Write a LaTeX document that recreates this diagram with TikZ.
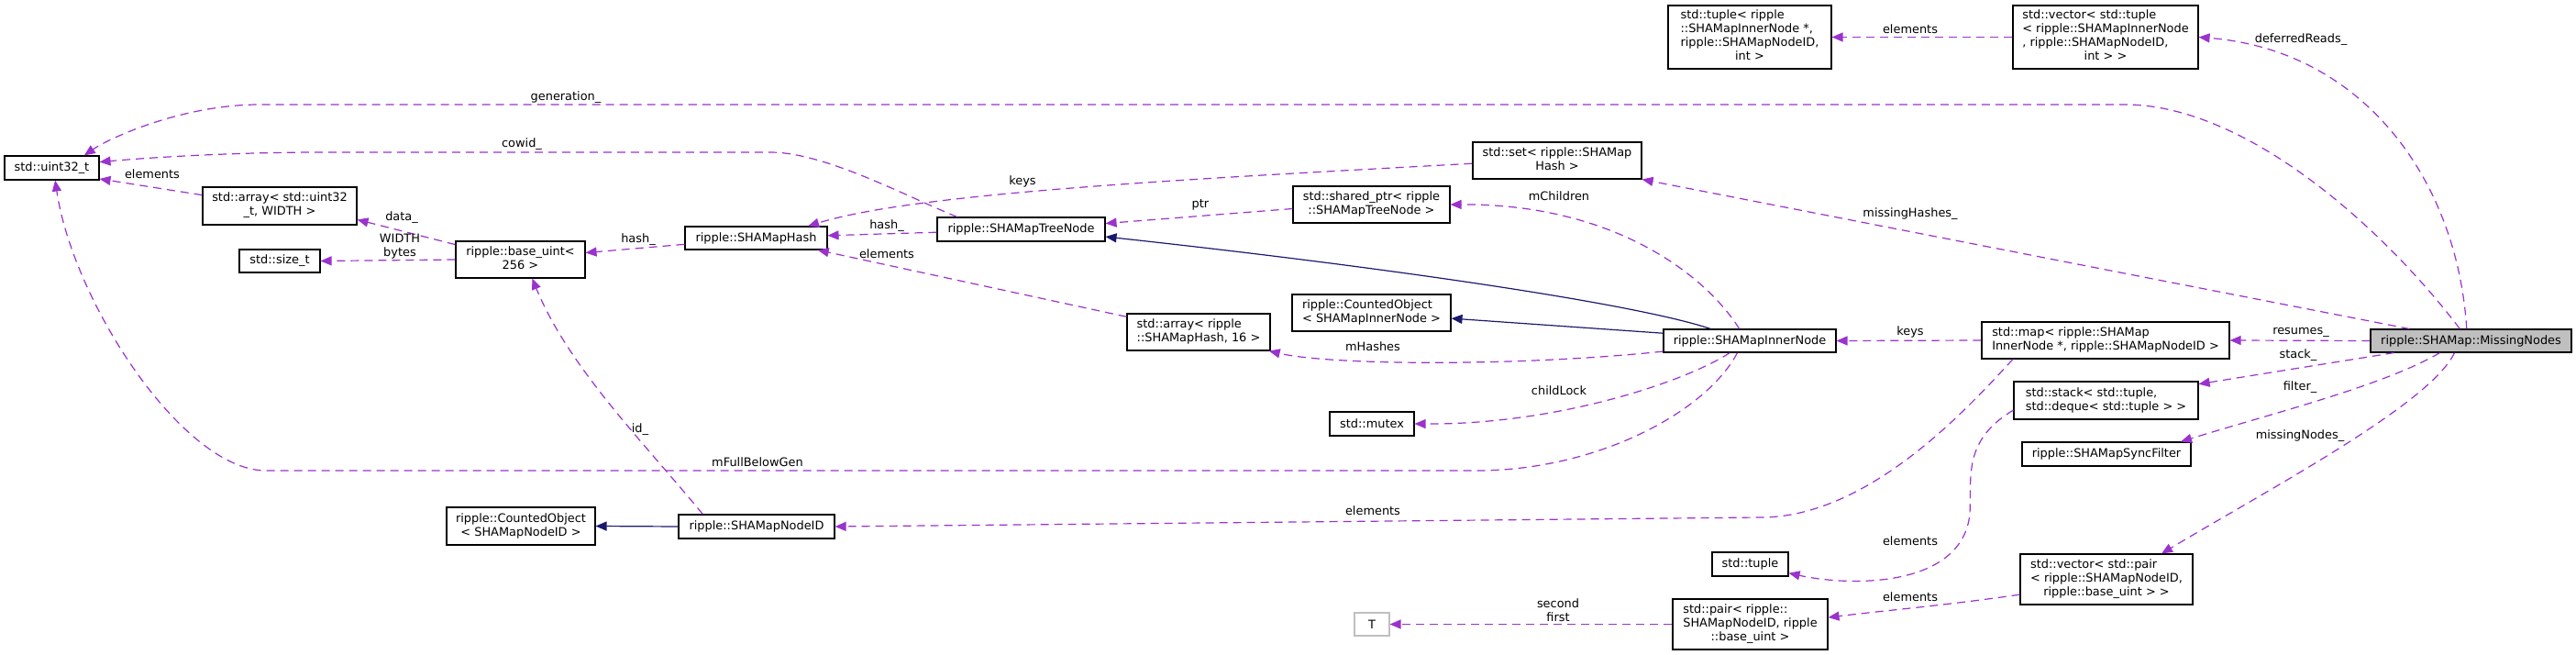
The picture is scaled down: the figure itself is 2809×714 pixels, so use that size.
\documentclass[tikz,border=0pt]{standalone}
\usepackage{fontspec}
\setmainfont{DejaVu Sans}
\usetikzlibrary{arrows.meta}
\definecolor{orchid}{RGB}{154,50,205}
\definecolor{midblue}{RGB}{25,25,112}
\definecolor{grayseventyfive}{RGB}{191,191,191}
% left-justified lines, last line centred
\newcommand{\boxlines}[2]{\begin{tabular}{@{}l@{}}#1\\\multicolumn{1}{@{}c@{}}{#2}\end{tabular}}

\begin{document}
\begin{tikzpicture}
    [x=1pt, y=-1pt,
    font=\fontsize{12.9}{15}\selectfont,
    cls/.style={draw, fill=white, line width=1.1pt, inner sep=0pt, align=center},
    uses/.style={orchid, line width=1.2pt, dash pattern=on 9pt off 6pt, -{Triangle[length=12pt, width=10pt]}},
    inherits/.style={midblue, line width=1.2pt, -{Triangle[length=12pt, width=10pt]}},
    lbl/.style={inner sep=0pt, align=center, text=black}]
    \useasboundingbox (0,0) rectangle (2809,714);

        %% classes
    \node[cls, minimum width=103, minimum height=26] (uint) at (56.5,183) {std::uint32\_t};
    \node[cls, minimum width=168, minimum height=41] (arruint) at (305,224.5) {\boxlines{std::array< std::uint32}{\_t, WIDTH >}};
    \node[cls, minimum width=88, minimum height=25] (sizet) at (305,284.5) {std::size\_t};
    \node[cls, minimum width=141, minimum height=40] (baseuint) at (567.5,283) {\boxlines{ripple::base\_uint<}{256 >}};
    \node[cls, minimum width=155, minimum height=25] (hash) at (824.5,259.5) {ripple::SHAMapHash};
    \node[cls, minimum width=183, minimum height=26] (treenode) at (1113.5,250) {ripple::SHAMapTreeNode};
    \node[cls, minimum width=184, minimum height=40] (set) at (1698,175) {\boxlines{std::set< ripple::SHAMap}{Hash >}};
    \node[cls, minimum width=171, minimum height=40] (sharedptr) at (1495.5,223) {\boxlines{std::shared\_ptr< ripple}{::SHAMapTreeNode >}};
    \node[cls, minimum width=178, minimum height=69] (tuple3) at (1908,40.5) {\boxlines{std::tuple< ripple\\::SHAMapInnerNode *,\\ ripple::SHAMapNodeID,}{int >}};
    \node[cls, minimum width=202, minimum height=69] (vectuple) at (2296,40.5) {\boxlines{std::vector< std::tuple\\< ripple::SHAMapInnerNode\\ *, ripple::SHAMapNodeID,}{int > >}};
    \node[cls, minimum width=156, minimum height=40] (arrhash) at (1307,362) {\boxlines{std::array< ripple}{::SHAMapHash, 16 >}};
    \node[cls, minimum width=173, minimum height=40] (coinner) at (1495.5,341) {\boxlines{ripple::CountedObject}{< SHAMapInnerNode >}};
    \node[cls, minimum width=188, minimum height=25] (inner) at (1908,371.5) {ripple::SHAMapInnerNode};
    \node[cls, minimum width=92, minimum height=26] (mutex) at (1496,462) {std::mutex};
    \node[cls, minimum width=162, minimum height=41] (conodeid) at (568,573.5) {\boxlines{ripple::CountedObject}{< SHAMapNodeID >}};
    \node[cls, minimum width=170, minimum height=26] (nodeid) at (825,574) {ripple::SHAMapNodeID};
    \node[cls, minimum width=270, minimum height=40] (map) at (2296,371) {\boxlines{std::map< ripple::SHAMap}{InnerNode *, ripple::SHAMapNodeID >}};
    \node[cls, fill=grayseventyfive, minimum width=219, minimum height=25] (missing) at (2694.5,371.5) {ripple::SHAMap::MissingNodes};
    \node[cls, minimum width=201, minimum height=41] (stack) at (2296.5,436.5) {\boxlines{std::stack< std::tuple,}{std::deque< std::tuple > >}};
    \node[cls, minimum width=184, minimum height=26] (syncfilter) at (2297,495) {ripple::SHAMapSyncFilter};
    \node[cls, minimum width=83, minimum height=26] (tuple) at (1908.5,615) {std::tuple};
    \node[cls, minimum width=188, minimum height=55] (vecpair) at (2297,631.5) {\boxlines{std::vector< std::pair\\< ripple::SHAMapNodeID,}{ripple::base\_uint > >}};
    \node[cls, minimum width=169, minimum height=55] (pair) at (1908.5,680.5) {\boxlines{std::pair< ripple::\\SHAMapNodeID, ripple}{::base\_uint >}};
    \node[cls, draw=grayseventyfive, minimum width=38, minimum height=25] (T) at (1496,680.5) {T};

        %% std::uint32_t
    \draw[uses] (arruint.172) -- (uint.-13) node[lbl] at (166,190) {elements};
    \draw[uses] (treenode.169) .. controls (990,215) and (900,166) .. (840,166) -- (350,166) .. controls (250,166) and (160,172) .. (uint.7) node[lbl] at (569,157) {cowid\_};
    \draw[uses] (missing.133) .. controls (2600,250) and (2450,114) .. (2317,114) -- (283,114) .. controls (200,114) and (120,150) .. (uint.21) node[lbl] at (617,106) {generation\_};
    \draw[uses] (inner.224) .. controls (1860,450) and (1740,513) .. (1610,513) -- (290,513) .. controls (200,513) and (80,330) .. (uint.-75) node[lbl] at (826,504) {mFullBelowGen};

        %% ripple::base_uint
    \draw[uses] (baseuint.167) -- (arruint.-10) node[lbl] at (438,237) {data\_};
    \draw[uses] (baseuint.west) -- (sizet.east) node[lbl] at (436,269) {WIDTH\\bytes};
    \draw[uses] (hash.185) -- (baseuint.6) node[lbl] at (696,261) {hash\_};
    \draw[uses] (nodeid.167) .. controls (700,480) and (620,400) .. (baseuint.-58) node[lbl] at (698,468) {id\_};

        %% ripple::SHAMapHash, ripple::SHAMapTreeNode
    \draw[uses] (treenode.182) -- (hash.2) node[lbl] at (967,246) {hash\_};
    \draw[uses] (set.182) .. controls (1300,195) and (1000,210) .. (hash.13) node[lbl] at (1115,198) {keys};
    \draw[uses] (arrhash.168) -- (hash.-11) node[lbl] at (967,277) {elements};
    \draw[uses] (sharedptr.183) -- (treenode.4) node[lbl] at (1309,223) {ptr};
    \draw[inherits] (inner.163) .. controls (1780,330) and (1500,290) .. (treenode.-5);

        %% ripple::SHAMapInnerNode
    \draw[inherits] (inner.175) -- (coinner.-4);
    \draw[uses] (inner.131) .. controls (1860,300) and (1760,222) .. (sharedptr.east) node[lbl] at (1700,214) {mChildren};
    \draw[uses] (inner.187) .. controls (1650,400) and (1450,398) .. (arrhash.-15) node[lbl] at (1497,378) {mHashes};
    \draw[uses] (inner.211) .. controls (1840,415) and (1700,463) .. (mutex.east) node[lbl] at (1700,426) {childLock};
    \draw[uses] (map.west) -- (inner.east) node[lbl] at (2083,362) {keys};

        %% ripple::SHAMapNodeID
    \draw[inherits] (nodeid.west) -- (conodeid.east);
    \draw[uses] ([xshift=-101pt]map.south) .. controls (2150,440) and (2040,564) .. (1920,564) -- (nodeid.east) node[lbl] at (1497,557) {elements};

        %% ripple::SHAMap::MissingNodes
    \draw[uses] (vectuple.west) -- (tuple3.east) node[lbl] at (2083,32) {elements};
    \draw[uses] (missing.110) .. controls (2680,200) and (2580,55) .. (vectuple.east) node[lbl] at (2509,43) {deferredReads\_};
    \draw[uses] (missing.169) -- (set.south east) node[lbl] at (2083,233) {missingHashes\_};
    \draw[uses] (missing.west) -- (map.east) node[lbl] at (2509,362) {resumes\_};
    \draw[uses] ([xshift=-84pt]missing.south) -- (stack.10) node[lbl] at (2506,387) {stack\_};
    \draw[uses] ([xshift=-34pt]missing.south) .. controls (2600,420) and (2480,450) .. ([xshift=81pt]syncfilter.north) node[lbl] at (2508,422) {filter\_};
    \draw[uses] ([xshift=-18pt]missing.south) .. controls (2650,440) and (2480,530) .. ([xshift=60pt]vecpair.north) node[lbl] at (2508,475) {missingNodes\_};

        %% pairs and tuples
    \draw[uses] (stack.186) .. controls (2140,480) and (2150,520) .. (2148,560) .. controls (2140,640) and (2020,640) .. (tuple.-13) node[lbl] at (2083,590) {elements};
    \draw[uses] (vecpair.190) .. controls (2120,660) and (2060,665) .. (pair.5) node[lbl] at (2083,651) {elements};
    \draw[uses] (pair.west) -- (T.east) node[lbl] at (1699,665) {second\\first};
\end{tikzpicture}
\end{document}
